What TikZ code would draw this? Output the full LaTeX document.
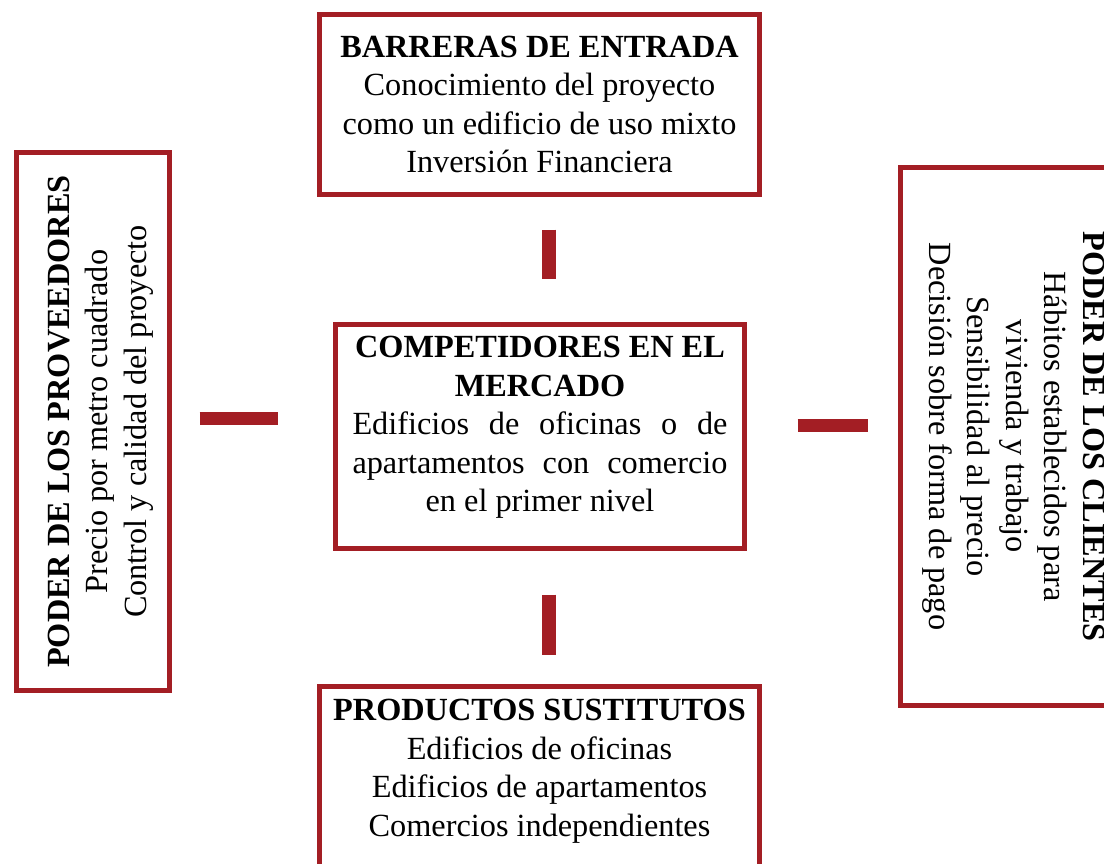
\documentclass[tikz,border=0pt]{standalone}
\usepackage{fontspec}
\setmainfont{Liberation Serif}
\definecolor{porterred}{RGB}{163,30,36}
\tikzset{
    fuerza/.style={draw=porterred, line width=5pt, align=center, inner sep=0pt,
        font=\fontsize{32.3}{38.5}\selectfont},
    barra/.style={draw=porterred, line width=13.5pt},
}
\begin{document}
\begin{tikzpicture}[x=1pt,y=-1pt]
    \clip (0,0) rectangle (1104,864);

    % Competidores en el mercado
    \node[fuerza, minimum width=409pt, minimum height=224pt, text depth=25pt] (comp) at (540,436.5)
        {\textbf{COMPETIDORES EN EL}\\\textbf{MERCADO}\\
         \makebox[375pt][s]{Edificios de oficinas o de}\\
         \makebox[375pt][s]{apartamentos con comercio}\\
         en el primer nivel};

    % Barreras de entrada
    \node[fuerza, minimum width=440pt, minimum height=180pt] (barr) at (539.5,104.5)
        {\textbf{BARRERAS DE ENTRADA}\\Conocimiento del proyecto\\
         como un edificio de uso mixto\\Inversión Financiera};

    % Productos sustitutos
    \node[fuerza, minimum width=440pt, minimum height=180pt, text depth=17pt] (sust) at (539.5,776.5)
        {\textbf{PRODUCTOS SUSTITUTOS}\\Edificios de oficinas\\
         Edificios de apartamentos\\Comercios independientes};

    % Poder de los proveedores
    \node[fuerza, rotate=90, minimum width=538pt, minimum height=153pt, text height=113pt] (prov) at (93,421.5)
        {\textbf{PODER DE LOS PROVEEDORES}\\Precio por metro cuadrado\\
         Control y calidad del proyecto};

    % Poder de los clientes
    \node[fuerza, rotate=-90, minimum width=538pt, minimum height=226pt] (cli) at (1013.5,436.5)
        {\textbf{PODER DE LOS CLIENTES}\\Hábitos establecidos para\\
         vivienda y trabajo\\Sensibilidad al precio\\Decisión sobre forma de pago};

    % Barras
    \coordinate (eje) at (549,0);
    \coordinate (filaizq) at (0,418.5);
    \coordinate (filader) at (0,425.5);
    \draw[barra, shorten <=32.5pt, shorten >=43.5pt] (barr.south -| eje) -- (comp.north -| eje);
    \draw[barra, shorten <=43.5pt, shorten >=29.5pt] (comp.south -| eje) -- (sust.north -| eje);
    \draw[barra, shorten <=27.5pt, shorten >=55.5pt] (prov.south |- filaizq) -- (comp.west |- filaizq);
    \draw[barra, shorten <=50.5pt, shorten >=30.5pt] (comp.east |- filader) -- (cli.south |- filader);
\end{tikzpicture}
\end{document}
